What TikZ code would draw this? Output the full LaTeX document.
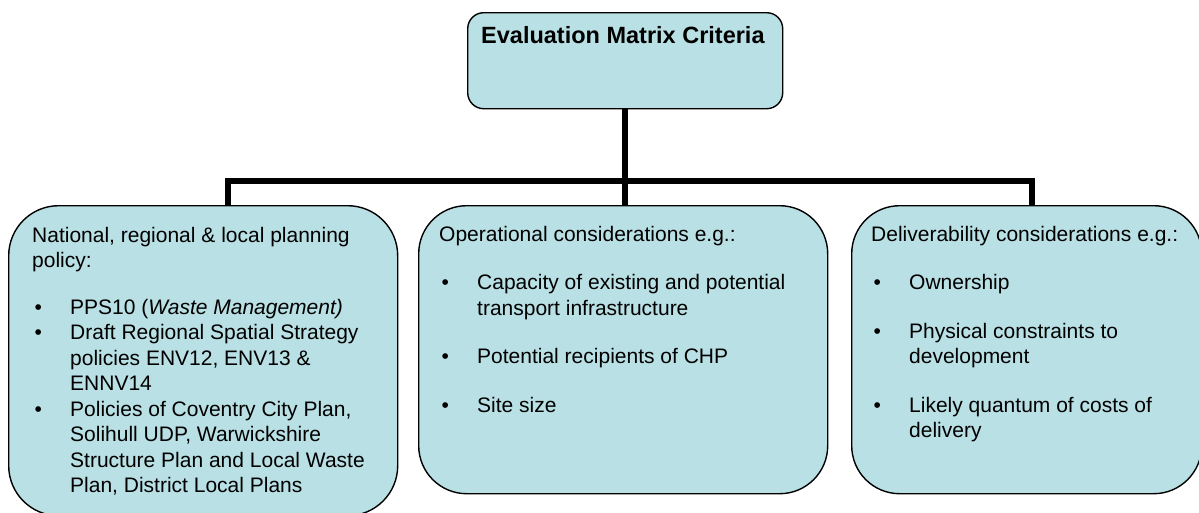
\documentclass[tikz,border=0pt]{standalone}
\usepackage{fontspec}
\setmainfont{Liberation Sans}
\usetikzlibrary{calc}

\definecolor{critfill}{RGB}{185,224,228}
\newcommand{\bul}{\makebox[38pt][l]{\hspace{2.5pt}\textbullet}}

\begin{document}
\begin{tikzpicture}[x=1pt,y=-1pt]
  \tikzset{
    critbox/.style={draw=black, line width=1.4pt, fill=critfill, inner sep=0pt, anchor=north west},
    crittext/.style={anchor=base west, inner sep=0pt, font=\fontsize{21}{25.5}\selectfont},
    link/.style={line width=5.5pt}
  }
  \useasboundingbox (0,0) rectangle (1199,512);
  % boxes
  \node[critbox, rounded corners=16pt, minimum width=315pt, minimum height=96pt] (crit) at (467,12) {};
  \node[critbox, rounded corners=50pt, minimum width=389pt, minimum height=310pt] (policy) at (8,205) {};
  \node[critbox, rounded corners=48pt, minimum width=409pt, minimum height=288pt] (oper) at (418,205) {};
  \node[critbox, rounded corners=48pt, minimum width=350pt, minimum height=288pt] (deliv) at (851,205) {};
  % connectors
  \coordinate (barL) at (228,181);
  \coordinate (barR) at (1032,181);
  \draw[link] (crit.south) -- (crit.south |- oper.north);
  \draw[link] (barL |- policy.north) -- (barL) -- (barR) -- (barR |- deliv.north);
  % texts
  \node[crittext, font=\fontsize{23.5}{28}\selectfont\bfseries] (crithead) at ($(crit.north west)+(14,31)$) {Evaluation Matrix Criteria};
  \node[crittext] (policytxt) at ($(policy.north west)+(24,37)$) {\begin{tabular}[t]{@{}l@{}l@{}}
    \multicolumn{2}{@{}l@{}}{National, regional \& local planning}\\
    \multicolumn{2}{@{}l@{}}{policy:}\\[21pt]
    \bul & PPS10 (\textit{Waste Management)}\\
    \bul & Draft Regional Spatial Strategy\\
         & policies ENV12, ENV13 \&\\
         & ENNV14\\
    \bul & Policies of Coventry City Plan,\\
         & Solihull UDP, Warwickshire\\
         & Structure Plan and Local Waste\\
         & Plan, District Local Plans
  \end{tabular}};
  \node[crittext] (opertxt) at ($(oper.north west)+(21,36)$) {\begin{tabular}[t]{@{}l@{}l@{}}
    \multicolumn{2}{@{}l@{}}{Operational considerations e.g.:}\\[23pt]
    \bul & Capacity of existing and potential\\
         & transport infrastructure\\[23pt]
    \bul & Potential recipients of CHP\\[23pt]
    \bul & Site size
  \end{tabular}};
  \node[crittext] (delivtxt) at ($(deliv.north west)+(20,36)$) {\begin{tabular}[t]{@{}l@{}l@{}}
    \multicolumn{2}{@{}l@{}}{Deliverability considerations e.g.:}\\[23pt]
    \bul & Ownership\\[23pt]
    \bul & Physical constraints to\\
         & development\\[23pt]
    \bul & Likely quantum of costs of\\
         & delivery
  \end{tabular}};
\end{tikzpicture}
\end{document}
